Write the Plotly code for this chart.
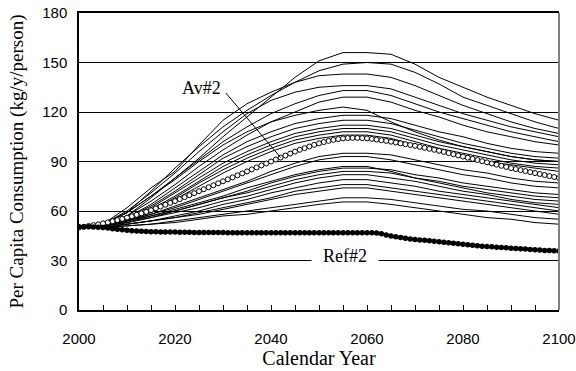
import plotly.graph_objects as go

# ---------------- data ----------------
years5 = list(range(2000, 2101, 5))
years1 = list(range(2000, 2101))

run_01 = [50, 52, 57, 68, 80, 92, 105, 117, 129, 141, 151, 156, 156, 155, 149, 141, 135, 129, 124, 119, 115]
run_02 = [50, 52, 59, 72, 86, 99, 111, 121, 130, 138, 145, 149, 150, 149, 144, 137, 129, 124, 119, 114, 110]
run_03 = [50, 52, 62, 74, 84, 100, 115, 125, 132, 138, 142, 143, 143, 141, 136, 130, 124, 119, 114, 110, 107]
run_04 = [50, 52, 60, 71, 83, 96, 108, 119, 127, 132, 135, 136, 136, 134, 129, 124, 119, 115, 111, 108, 105]
run_05 = [50, 52, 59, 69, 80, 91, 102, 111, 119, 125, 130, 133, 133, 130, 125, 120, 116, 112, 108, 105, 102]
run_06 = [50, 51, 57, 66, 76, 87, 97, 106, 114, 120, 126, 129, 129, 126, 121, 117, 112, 108, 105, 102, 100]
run_07 = [50, 52, 59, 69, 79, 90, 100, 108, 114, 118, 121, 123, 121, 114, 108, 103, 99, 96, 93, 91, 90]
run_08 = [50, 51, 56, 64, 74, 84, 94, 102, 108, 113, 116, 118, 118, 116, 112, 108, 105, 101, 98, 96, 95]
run_09 = [50, 51, 56, 63, 72, 82, 92, 99, 105, 110, 113, 115, 115, 113, 109, 105, 101, 98, 95, 93, 92]
run_10 = [50, 51, 55, 62, 71, 80, 89, 96, 102, 107, 110, 112, 112, 110, 106, 102, 99, 96, 93, 91, 90]
run_11 = [50, 51, 55, 61, 69, 78, 87, 94, 100, 105, 108, 110, 110, 108, 104, 100, 97, 94, 91, 89, 88]
run_12 = [50, 51, 54, 60, 68, 77, 85, 92, 98, 103, 106, 108, 108, 106, 102, 98, 95, 92, 89, 87, 86]
run_13 = [50, 51, 54, 59, 67, 75, 83, 90, 96, 101, 104, 106, 106, 104, 100, 96, 93, 90, 88, 86, 84]
run_14 = [50, 51, 54, 58, 63, 68, 73, 78, 84, 89, 93, 95, 95, 94, 91, 88, 85, 83, 80, 78, 77]
run_15 = [50, 51, 54, 58, 62, 67, 72, 77, 82, 87, 91, 93, 93, 91, 88, 85, 82, 80, 77, 75, 74]
run_16 = [50, 51, 54, 57, 61, 65, 69, 74, 78, 82, 85, 87, 87, 84, 80, 77, 74, 71, 69, 67, 66]
run_17 = [50, 51, 53, 57, 60, 64, 68, 72, 77, 81, 84, 86, 86, 85, 82, 80, 77, 75, 73, 71, 70]
run_18 = [50, 51, 53, 56, 60, 64, 68, 71, 75, 79, 82, 84, 84, 83, 80, 78, 75, 73, 71, 69, 68]
run_19 = [50, 51, 53, 56, 59, 62, 66, 69, 73, 77, 80, 82, 82, 80, 78, 75, 72, 70, 67, 65, 64]
run_20 = [50, 51, 52, 54, 57, 60, 64, 67, 71, 74, 77, 79, 79, 77, 75, 72, 70, 68, 66, 64, 62]
run_21 = [50, 50, 52, 54, 56, 59, 62, 65, 68, 72, 74, 76, 76, 74, 72, 70, 68, 66, 64, 62, 60]
run_22 = [50, 50, 52, 54, 56, 58, 61, 64, 67, 70, 72, 74, 74, 72, 70, 68, 66, 64, 62, 60, 58]
run_23 = [50, 50, 51, 52, 54, 56, 58, 60, 62, 64, 66, 68, 68, 67, 65, 63, 61, 60, 58, 56, 55]
run_24 = [50, 50, 51, 52, 53, 55, 57, 58, 60, 62, 64, 65.5, 65.5, 64, 62, 60, 58, 56, 55, 53, 52]

runs = [run_01, run_02, run_03, run_04, run_05, run_06, run_07, run_08, run_09, run_10,
        run_11, run_12, run_13, run_14, run_15, run_16, run_17, run_18, run_19, run_20,
        run_21, run_22, run_23, run_24]

av2 = [50, 50.4, 50.9, 51.4, 51.9,
       52.5, 53.1, 53.8, 54.5, 55.2,
       56, 56.8, 57.7, 58.6, 59.5,
       60.5, 61.6, 62.7, 63.8, 64.9,
       66, 67.2, 68.4, 69.6, 70.8,
       72, 73.2, 74.4, 75.6, 76.8,
       78, 79.2, 80.4, 81.6, 82.8,
       84, 85.2, 86.4, 87.6, 88.8,
       90, 91.2, 92.4, 93.6, 94.8,
       96, 97.1, 98.1, 99.1, 100.1,
       101, 101.8, 102.5, 103.1, 103.6,
       104, 104.2, 104.3, 104.3, 104.2,
       104, 103.7, 103.3, 102.9, 102.5,
       102, 101.5, 101, 100.5, 100,
       99.5, 98.9, 98.3, 97.7, 97.1,
       96.5, 95.8, 95.1, 94.4, 93.7,
       93, 92.3, 91.6, 90.9, 90.2,
       89.5, 88.8, 88.1, 87.4, 86.7,
       86, 85.4, 84.8, 84.2, 83.6,
       83, 82.4, 81.8, 81.2, 80.6,
       80]

ref2 = [50.5, 50.5, 50.4, 50.3, 50.2,
        50, 49.7, 49.3, 48.9, 48.6,
        48.3, 48.1, 47.9, 47.7, 47.6,
        47.5, 47.4, 47.3, 47.3, 47.2,
        47.2, 47.1, 47.1, 47.1, 47.0, 47.0, 47.0, 47.0, 46.9, 46.9,
        46.9, 46.8, 46.8, 46.8, 46.8, 46.8, 46.8, 46.8, 46.8, 46.8,
        46.8, 46.8, 46.8, 46.8, 46.8, 46.8, 46.8, 46.8, 46.8, 46.8,
        46.8, 46.8, 46.8, 46.8, 46.8, 46.8, 46.8, 46.8, 46.8, 46.8,
        46.8, 46.8, 46.7, 46.2, 45.5,
        44.9, 44.4, 43.9, 43.5, 43.1,
        42.8, 42.5, 42.2, 41.9, 41.6,
        41.3, 41.0, 40.7, 40.4, 40.1,
        39.8, 39.5, 39.2, 38.9, 38.7,
        38.5, 38.3, 38.1, 37.9, 37.7,
        37.5, 37.3, 37.1, 36.9, 36.7,
        36.5, 36.3, 36.1, 36.0, 35.9,
        35.8]

y_ticks = [0, 30, 60, 90, 120, 150, 180]
x_ticks = [2000, 2020, 2040, 2060, 2080, 2100]

# ---------------- figure ----------------
fig = go.Figure()

for r in runs:
    fig.add_trace(go.Scatter(x=years5, y=r, mode="lines",
                             line=dict(color="black", width=1),
                             showlegend=False, hoverinfo="skip"))

fig.add_trace(go.Scatter(x=years1, y=av2, mode="markers",
                         marker=dict(symbol="circle", size=5, color="white",
                                     line=dict(color="black", width=1)),
                         showlegend=False))

fig.add_trace(go.Scatter(x=years1, y=ref2, mode="lines+markers",
                         line=dict(color="black", width=1.5),
                         marker=dict(symbol="circle", size=5.5, color="black"),
                         showlegend=False))

label_year = 2042
fig.add_shape(type="line", xref="x", yref="y",
              x0=label_year, y0=av2[label_year - 2000], x1=2030.6, y1=131.5,
              line=dict(color="black", width=1))

fig.add_annotation(x=2025.6, y=134.5, xref="x", yref="y", text="Av#2",
                   showarrow=False,
                   font=dict(family="Liberation Serif", size=18, color="black"))

fig.add_annotation(x=2055.5, y=33, xref="x", yref="y", text="Ref#2",
                   showarrow=False, bgcolor="white", width=64, height=22,
                   font=dict(family="Liberation Serif", size=18, color="black"))

# right border (grey)
fig.add_shape(type="line", xref="paper", yref="paper", x0=1, x1=1, y0=0, y1=1,
              line=dict(color="#808080", width=2))

fig.update_layout(
    width=576, height=371,
    margin=dict(l=79, r=17, t=13, b=61, autoexpand=False),
    paper_bgcolor="white", plot_bgcolor="white",
    font=dict(family="Liberation Sans", color="black"),
)

fig.update_xaxes(
    range=[2000, 2100], tickvals=x_ticks, ticktext=[str(v) for v in x_ticks],
    ticks="inside", ticklen=5, tickcolor="black", tickwidth=1,
    minor=dict(dtick=5, tick0=2000, ticks="inside", ticklen=5, tickcolor="black", showgrid=False),
    showgrid=False, zeroline=False, automargin=False,
    showline=True, linecolor="black", linewidth=1.5, mirror=True,
    tickfont=dict(family="Liberation Sans", size=15, color="black"),
    ticklabelstandoff=14,
    title=dict(text="Calendar Year", font=dict(family="Liberation Serif", size=20, color="black"),
               standoff=4),
)

fig.update_yaxes(
    range=[0, 180], tickvals=y_ticks, ticktext=[str(v) for v in y_ticks],
    ticks="", showgrid=True, gridcolor="black", gridwidth=1, zeroline=False, automargin=False,
    showline=True, linecolor="black", linewidth=1.5,
    tickfont=dict(family="Liberation Sans", size=15, color="black"),
    ticklabelstandoff=7,
    title=dict(text="Per Capita Consumption (kg/y/person)",
               font=dict(family="Liberation Serif", size=19, color="black"), standoff=14),
)

fig.write_html("out.html", config={"displayModeBar": False},
               post_script="document.body.style.margin='0';document.body.style.padding='0';")
